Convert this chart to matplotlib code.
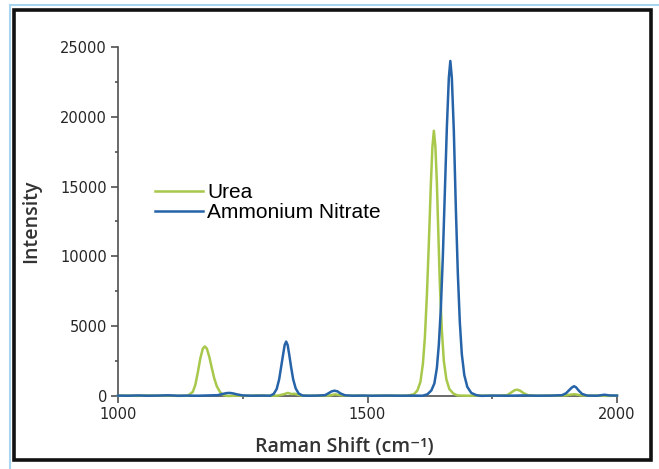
import matplotlib
matplotlib.use('Agg')
import matplotlib.pyplot as plt
from matplotlib.patches import Rectangle
from matplotlib.lines import Line2D
from matplotlib.ticker import MultipleLocator

# Urea spectrum
urea_x = [1000, 1020, 1040, 1060, 1080, 1100, 1120, 1140, 1150, 1155, 1160, 1165, 1170, 1174,
          1178, 1183, 1188, 1193, 1198, 1205, 1212, 1220, 1240, 1260, 1280, 1300, 1320, 1332,
          1340, 1348, 1354, 1360, 1368, 1380, 1400, 1425, 1435, 1445, 1460, 1480, 1500, 1530,
          1560, 1580, 1593, 1600, 1606, 1611, 1615, 1619, 1623, 1627, 1630, 1633, 1636, 1639,
          1642, 1645, 1649, 1653, 1658, 1664, 1672, 1680, 1700, 1730, 1760, 1780, 1788, 1795,
          1800, 1806, 1813, 1822, 1840, 1870, 1895, 1905, 1915, 1925, 1940, 1960, 1980, 2000]
urea_y = [20, 30, 10, 40, 20, 30, 10, 20, 300, 800, 1700, 2700, 3400, 3550,
          3400, 2800, 2000, 1250, 700, 250, 60, 0, 30, 10, 40, 20, 30, 120,
          220, 140, 160, 90, 30, 20, 30, 40, 120, 60, 20, 30, 10, 30,
          20, 30, 120, 400, 1000, 2300, 4200, 7200, 11000, 15200, 17800, 19000, 17900, 15300,
          11600, 8000, 4700, 2500, 1200, 500, 180, 40, 20, 30, 20, 60, 250, 420,
          450, 380, 200, 50, 20, 30, 40, 90, 130, 60, 20, 30, 10, 20]

# Ammonium nitrate spectrum
an_x = [1000, 1020, 1040, 1060, 1080, 1100, 1120, 1140, 1160, 1180, 1200, 1210, 1218, 1224,
        1230, 1238, 1250, 1270, 1290, 1305, 1312, 1318, 1323, 1327, 1331, 1334, 1337, 1340,
        1343, 1347, 1351, 1356, 1362, 1370, 1385, 1400, 1415, 1422, 1428, 1434, 1440, 1446,
        1455, 1470, 1490, 1510, 1540, 1570, 1590, 1610, 1620, 1628, 1634, 1639, 1643, 1647,
        1651, 1655, 1659, 1663, 1666, 1669, 1673, 1677, 1681, 1685, 1689, 1694, 1700, 1708,
        1718, 1728, 1750, 1780, 1810, 1840, 1870, 1890, 1898, 1905, 1910, 1914, 1918, 1923,
        1930, 1940, 1960, 1975, 1985, 2000]
an_y = [30, 20, 40, 20, 30, 50, 20, 30, 20, 40, 60, 150, 210, 220,
        190, 120, 40, 20, 30, 20, 150, 500, 1200, 2100, 3000, 3650, 3900, 3650,
        3000, 2050, 1200, 550, 180, 30, 20, 30, 60, 200, 330, 380, 330, 180,
        50, 20, 30, 20, 30, 20, 30, 20, 120, 400, 900, 2000, 3700, 6300,
        10000, 14600, 19200, 22800, 24000, 22800, 19000, 13500, 8800, 5300, 3000, 1500, 650, 220,
        60, 10, 30, 20, 40, 20, 30, 60, 200, 450, 620, 700, 620, 400,
        150, 30, 20, 90, 40, 30]

urea_color = '#a8c84c'
an_color = '#2663a8'

fig = plt.figure(figsize=(6.59, 4.69), dpi=100)
ax = fig.add_axes([118 / 659, 1 - 396 / 469, 499 / 659, 349 / 469])

ax.plot(urea_x, urea_y, color=urea_color, linewidth=1.8, clip_on=False, zorder=3)
ax.plot(an_x, an_y, color=an_color, linewidth=1.8, clip_on=False, zorder=4)

ax.set_xlim(1000, 2000)
ax.set_ylim(0, 25000)
ax.xaxis.set_major_locator(MultipleLocator(500))
ax.xaxis.set_minor_locator(MultipleLocator(250))
ax.yaxis.set_major_locator(MultipleLocator(5000))
ax.yaxis.set_minor_locator(MultipleLocator(2500))

for s in ['top', 'right']:
    ax.spines[s].set_visible(False)
for s in ['left', 'bottom']:
    ax.spines[s].set_color('#505050')
    ax.spines[s].set_linewidth(1.2)

ax.tick_params(which='major', direction='out', length=5, width=1.2, color='#505050',
               labelsize=10.5, labelcolor='#262626', pad=3)
ax.tick_params(which='minor', direction='out', length=2.5, width=1.2, color='#505050')
for lab in ax.get_xticklabels() + ax.get_yticklabels():
    lab.set_family('DejaVu Sans')

ax.set_ylabel('Intensity', family=['Open Sans', 'DejaVu Sans'], weight='semibold',
              fontsize=14, color='#333333')
ax.set_xlabel('Raman Shift (cm⁻¹)', family=['Open Sans', 'DejaVu Sans'], weight='semibold',
              fontsize=14, color='#333333')
ax.yaxis.set_label_coords(-0.155, 0.5)
ax.xaxis.set_label_coords(0.453, -0.118)

handles = [Line2D([], [], color=urea_color, linewidth=1.8),
           Line2D([], [], color=an_color, linewidth=1.8)]
fig.legend(handles, ['Urea', 'Ammonium Nitrate'], loc='upper left',
           bbox_to_anchor=(155 / 659, 1 - 183 / 469), frameon=False,
           prop={'family': 'Liberation Sans', 'size': 15}, handlelength=2.3,
           handletextpad=0.2, labelspacing=0.05, borderpad=0, borderaxespad=0)

# picture frame: light blue edge at top and left, black border inside
fig.add_artist(Line2D([10 / 659, 10 / 659], [0, 1 - 5 / 469], transform=fig.transFigure,
                      color='#a9d6ee', linewidth=1.5))
fig.add_artist(Line2D([10 / 659, 1], [1 - 5 / 469, 1 - 5 / 469], transform=fig.transFigure,
                      color='#a9d6ee', linewidth=1.5))
fig.patches.append(Rectangle((14 / 659, 1 - 460 / 469), 637 / 659, 449.5 / 469,
                             transform=fig.transFigure, fill=False,
                             edgecolor='#111111', linewidth=2.6))

fig.savefig('out.png', dpi=100)
